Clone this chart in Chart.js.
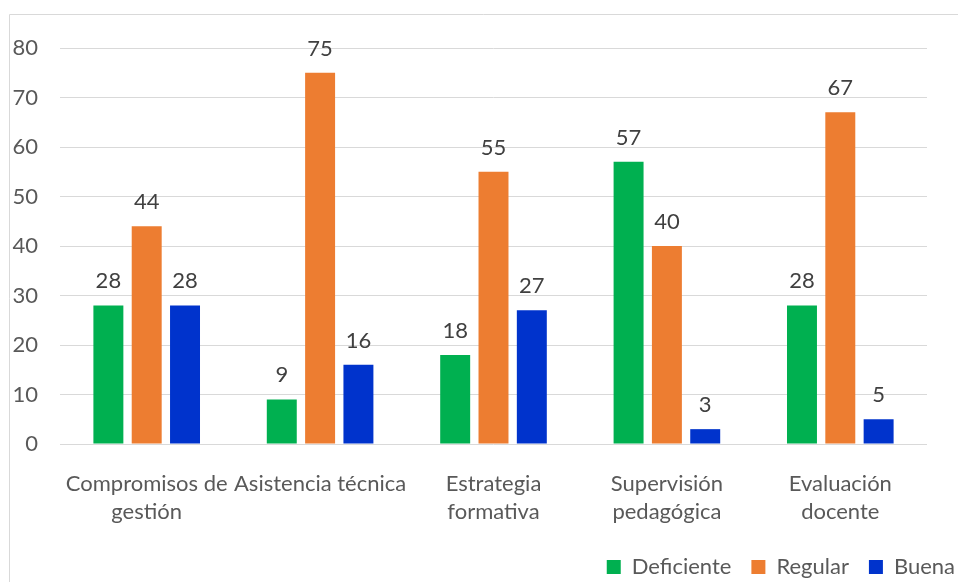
<!DOCTYPE html>
<html>
<head>
<meta charset="utf-8">
<script src="https://cdn.jsdelivr.net/npm/chart.js@4/dist/chart.umd.min.js"></script>
<style>
  html, body { margin: 0; padding: 0; background: #fff; }
  #wrap { width: 959px; height: 582px; }
</style>
</head>
<body>
<div id="wrap"><canvas id="chart"></canvas></div>
<script>
const categories = [
  ["Compromisos de", "gestión"],
  ["Asistencia técnica"],
  ["Estrategia", "formativa"],
  ["Supervisión", "pedagógica"],
  ["Evaluación", "docente"],
];
const deficiente = [28, 9, 18, 57, 28];
const regular = [44, 75, 55, 40, 67];
const buena = [28, 16, 27, 3, 5];
const yTicks = [0, 10, 20, 30, 40, 50, 60, 70, 80];

const FONT = "Lato, 'Open Sans', sans-serif";

// value over each bar
const valueLabels = {
  id: "valueLabels",
  afterDatasetsDraw(chart) {
    const ctx = chart.ctx;
    ctx.save();
    ctx.font = "22px " + FONT;
    ctx.fillStyle = "#404040";
    ctx.textAlign = "center";
    ctx.textBaseline = "alphabetic";
    chart.data.datasets.forEach((ds, i) => {
      chart.getDatasetMeta(i).data.forEach((bar, j) => {
        ctx.fillText(ds.data[j], bar.x, bar.y - 17);
      });
    });
    ctx.restore();
  },
};

// thin frame on the left and top
const frame = {
  id: "frame",
  beforeDraw(chart) {
    const ctx = chart.ctx;
    ctx.save();
    ctx.strokeStyle = "#d9d9d9";
    ctx.lineWidth = 1;
    ctx.beginPath();
    ctx.moveTo(9.5, 582);
    ctx.lineTo(9.5, 14.5);
    ctx.lineTo(958, 14.5);
    ctx.stroke();
    ctx.restore();
  },
};

new Chart(document.getElementById("chart"), {
  type: "bar",
  data: {
    labels: categories,
    datasets: [
      { label: "Deficiente", data: deficiente, backgroundColor: "#00b050" },
      { label: "Regular", data: regular, backgroundColor: "#ed7d31" },
      { label: "Buena", data: buena, backgroundColor: "#0033cc" },
    ],
  },
  options: {
    responsive: true,
    maintainAspectRatio: false,
    animation: false,
    datasets: {
      bar: { categoryPercentage: 0.663, barPercentage: 0.782 },
    },
    layout: { padding: { left: 10, right: -16, top: 48, bottom: -6 } },
    scales: {
      x: {
        grid: { display: false },
        border: { display: false },
        ticks: {
          color: "#595959",
          font: { family: FONT, size: 22, lineHeight: "28px" },
          padding: 18,
          maxRotation: 0,
          autoSkip: false,
        },
        afterFit: (s) => { s.height = 92; },
      },
      y: {
        min: 0,
        max: 80,
        afterBuildTicks: (s) => { s.ticks = yTicks.map((v) => ({ value: v })); },
        grid: { color: "#d9d9d9", drawTicks: false },
        border: { display: false },
        ticks: {
          color: "#595959",
          font: { family: FONT, size: 22 },
          padding: 22,
        },
        afterFit: (s) => { s.width = 50; },
      },
      // empty right-hand gutter
      y2: {
        type: "linear",
        position: "right",
        grid: { display: false },
        border: { display: false },
        ticks: { display: false },
        afterFit: (s) => { s.width = 48; },
      },
    },
    plugins: {
      legend: {
        position: "bottom",
        align: "end",
        labels: {
          boxWidth: 14,
          boxHeight: 14,
          padding: 20,
          color: "#595959",
          font: { family: FONT, size: 22 },
        },
      },
      tooltip: { enabled: false },
    },
  },
  plugins: [frame, valueLabels],
});
</script>
</body>
</html>
